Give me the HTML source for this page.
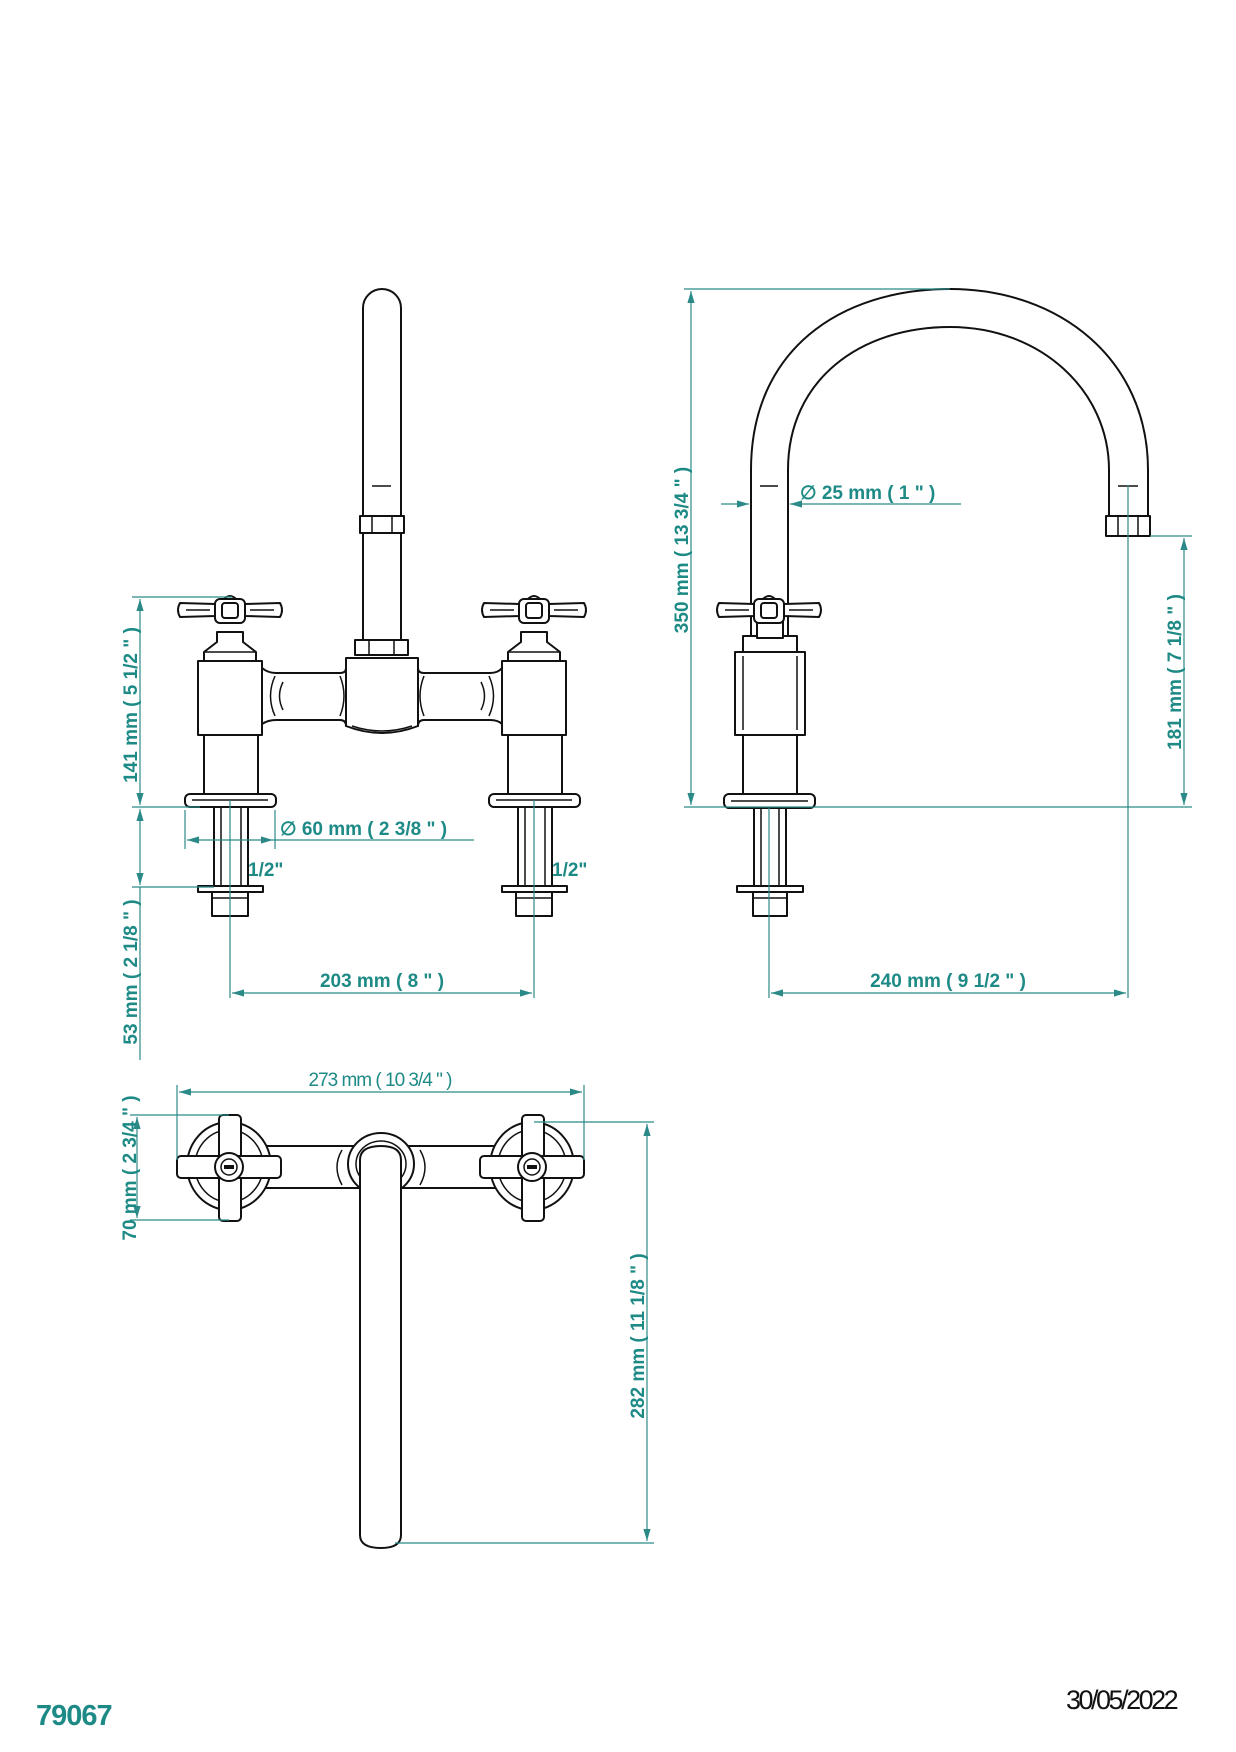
<!DOCTYPE html>
<html><head><meta charset="utf-8"><style>
html,body{margin:0;padding:0;background:#fff;}
svg{display:block;}
.d{stroke:#2b8a87;stroke-width:1.2;fill:none;}
.t{fill:#1e8a86;font-family:"Liberation Sans",sans-serif;font-weight:bold;font-size:19px;}
.k{stroke:#111;stroke-width:2;fill:#fff;stroke-linejoin:round;}
.kn{stroke:#111;stroke-width:1.5;fill:none;}
</style></head><body>
<svg width="1236" height="1752" viewBox="0 0 1236 1752" xmlns="http://www.w3.org/2000/svg">
<defs>
<marker id="a" viewBox="0 0 10 6" refX="10" refY="3" markerWidth="10" markerHeight="6" orient="auto-start-reverse"><path d="M0,0 L10,3 L0,6 z" fill="#2b8a87"/></marker>
</defs>

<path class="k" d="M363,640 L363,308 A19,19 0 0 1 401,308 L401,640 Z"/>
<line class="kn" x1="372" y1="486" x2="391" y2="486"/>
<rect class="k" x="360" y="516" width="44" height="17"/>
<line class="kn" x1="372" y1="516" x2="372" y2="533"/><line class="kn" x1="392" y1="516" x2="392" y2="533"/>
<rect class="k" x="355" y="640" width="53" height="15"/>
<line class="kn" x1="369" y1="640" x2="369" y2="655"/><line class="kn" x1="394" y1="640" x2="394" y2="655"/>
<path class="k" d="M262,668 Q268,673 276,673 L340,673 Q346,673 346,668 L418,668 Q418,673 424,673 L490,673 Q498,673 502,668 L502,724 Q498,720 490,720 L424,720 Q418,720 418,726 L346,726 Q346,720 340,720 L276,720 Q268,720 262,724 Z"/>
<path class="k" d="M346,658 L418,658 L418,726 Q382,740 346,726 Z"/>
<path class="kn" d="M352,726 Q382,736 412,726"/>
<path class="kn" d="M275,676 Q266,696 275,716"/><path class="kn" d="M283,682 Q276,696 283,710"/>
<path class="kn" d="M489,676 Q498,696 489,716"/><path class="kn" d="M481,682 Q488,696 481,710"/>
<path class="kn" d="M340,676 Q348,696 340,716"/><path class="kn" d="M424,676 Q416,696 424,716"/>

<g>
<rect class="k" x="198" y="661" width="64" height="74"/>
<rect class="k" x="204" y="735" width="54" height="59"/>
<rect class="k" x="185" y="794" width="91" height="13" rx="5"/>
<line class="kn" x1="192" y1="800" x2="268" y2="800"/>
<rect class="k" x="214" y="807" width="34" height="80"/>
<line class="kn" x1="221" y1="807" x2="221" y2="887"/><line class="kn" x1="241" y1="807" x2="241" y2="887"/>
<rect class="k" x="198" y="886" width="65" height="6"/>
<rect class="k" x="212" y="892" width="36" height="24"/>
<line class="kn" x1="212" y1="898" x2="248" y2="898"/>
<path class="k" d="M217,632 L243,632 L243,642 L256,652 L256,661 L204,661 L204,652 L217,642 Z"/>
<line class="kn" x1="204" y1="652" x2="256" y2="652"/>
<path class="k" d="M215,604 L180,603 Q176,610 180,617 L215,616 Z"/>
<path class="k" d="M245,604 L280,603 Q284,610 280,617 L245,616 Z"/>
<line class="kn" x1="186" y1="610" x2="210" y2="610"/><line class="kn" x1="250" y1="610" x2="274" y2="610"/>
<rect class="k" x="215" y="599" width="30" height="24" rx="5"/>
<rect class="k" x="222" y="603" width="16" height="15" rx="3"/>
<path class="k" d="M224,599 Q230,593 236,599 Z"/>
</g>
<g transform="translate(304,0)">
<rect class="k" x="198" y="661" width="64" height="74"/>
<rect class="k" x="204" y="735" width="54" height="59"/>
<rect class="k" x="185" y="794" width="91" height="13" rx="5"/>
<line class="kn" x1="192" y1="800" x2="268" y2="800"/>
<rect class="k" x="214" y="807" width="34" height="80"/>
<line class="kn" x1="221" y1="807" x2="221" y2="887"/><line class="kn" x1="241" y1="807" x2="241" y2="887"/>
<rect class="k" x="198" y="886" width="65" height="6"/>
<rect class="k" x="212" y="892" width="36" height="24"/>
<line class="kn" x1="212" y1="898" x2="248" y2="898"/>
<path class="k" d="M217,632 L243,632 L243,642 L256,652 L256,661 L204,661 L204,652 L217,642 Z"/>
<line class="kn" x1="204" y1="652" x2="256" y2="652"/>
<path class="k" d="M215,604 L180,603 Q176,610 180,617 L215,616 Z"/>
<path class="k" d="M245,604 L280,603 Q284,610 280,617 L245,616 Z"/>
<line class="kn" x1="186" y1="610" x2="210" y2="610"/><line class="kn" x1="250" y1="610" x2="274" y2="610"/>
<rect class="k" x="215" y="599" width="30" height="24" rx="5"/>
<rect class="k" x="222" y="603" width="16" height="15" rx="3"/>
<path class="k" d="M224,599 Q230,593 236,599 Z"/>
</g>

<line class="d" x1="132" y1="597" x2="232" y2="597"/>
<line class="d" x1="132" y1="807" x2="200" y2="807"/>
<line class="d" x1="132" y1="887" x2="214" y2="887"/>
<line class="d" x1="140" y1="599" x2="140" y2="805" marker-start="url(#a)" marker-end="url(#a)"/>
<line class="d" x1="140" y1="809" x2="140" y2="885" marker-start="url(#a)" marker-end="url(#a)"/>
<line class="d" x1="140" y1="887" x2="140" y2="1060"/>
<text class="t" transform="translate(137,705) rotate(-90)" text-anchor="middle">141 mm ( 5 1/2 " )</text>
<text class="t" transform="translate(137,972) rotate(-90)" text-anchor="middle">53 mm ( 2 1/8 " )</text>
<line class="d" x1="185" y1="810" x2="185" y2="849"/>
<line class="d" x1="275" y1="810" x2="275" y2="849"/>
<line class="d" x1="187" y1="840" x2="273" y2="840" marker-start="url(#a)" marker-end="url(#a)"/>
<line class="d" x1="273" y1="840" x2="474" y2="840"/>
<text class="t" x="280" y="835">∅ 60 mm ( 2 3/8 " )</text>
<text class="t" x="248" y="876">1/2"</text>
<text class="t" x="552" y="876">1/2"</text>
<line class="d" x1="230" y1="800" x2="230" y2="998"/>
<line class="d" x1="534" y1="800" x2="534" y2="998"/>
<line class="d" x1="232" y1="993" x2="532" y2="993" marker-start="url(#a)" marker-end="url(#a)"/>
<text class="t" x="382" y="987" text-anchor="middle">203 mm ( 8 " )</text>

<path class="k" d="M751,640 L751,470 C751,350 840,289 950,289 C1060,289 1148,360 1148,470 L1148,520 L1109,520 L1109,470 C1109,390 1040,327 950,327 C860,327 788,380 788,470 L788,640 Z"/>
<line class="kn" x1="760" y1="486" x2="778" y2="486"/>
<line class="kn" x1="1118" y1="486" x2="1138" y2="486"/>
<rect class="k" x="1106" y="516" width="44" height="20"/>
<line class="kn" x1="1118" y1="516" x2="1118" y2="536"/><line class="kn" x1="1138" y1="516" x2="1138" y2="536"/>
<rect class="k" x="743" y="636" width="54" height="16"/>
<rect class="k" x="735" y="652" width="70" height="83"/>
<line class="kn" x1="743" y1="656" x2="743" y2="730"/><line class="kn" x1="797" y1="656" x2="797" y2="730"/>
<rect class="k" x="743" y="735" width="54" height="59"/>
<rect class="k" x="724" y="794" width="91" height="14" rx="5"/>
<line class="kn" x1="731" y1="801" x2="808" y2="801"/>
<rect class="k" x="754" y="808" width="32" height="78"/>
<line class="kn" x1="761" y1="808" x2="761" y2="886"/><line class="kn" x1="779" y1="808" x2="779" y2="886"/>
<rect class="k" x="737" y="886" width="66" height="6"/>
<rect class="k" x="753" y="892" width="34" height="24"/>
<line class="kn" x1="753" y1="898" x2="787" y2="898"/>
<rect class="k" x="757" y="618" width="26" height="20"/>
<path class="k" d="M754,604 L719,603 Q715,610 719,617 L754,616 Z"/>
<path class="k" d="M784,604 L819,603 Q823,610 819,617 L784,616 Z"/>
<line class="kn" x1="725" y1="610" x2="749" y2="610"/><line class="kn" x1="789" y1="610" x2="813" y2="610"/>
<rect class="k" x="754" y="599" width="30" height="24" rx="5"/>
<rect class="k" x="761" y="603" width="16" height="15" rx="3"/>
<path class="k" d="M763,599 Q769,593 775,599 Z"/>

<line class="d" x1="684" y1="289" x2="950" y2="289"/>
<line class="d" x1="684" y1="807" x2="1192" y2="807"/>
<line class="d" x1="691" y1="291" x2="691" y2="805" marker-start="url(#a)" marker-end="url(#a)"/>
<text class="t" transform="translate(688,550) rotate(-90)" text-anchor="middle">350 mm ( 13 3/4 " )</text>
<line class="d" x1="721" y1="504" x2="749" y2="504" marker-end="url(#a)"/>
<line class="d" x1="790" y1="504" x2="961" y2="504" marker-start="url(#a)"/>
<text class="t" x="800" y="499">∅ 25 mm ( 1 " )</text>
<line class="d" x1="1150" y1="536" x2="1192" y2="536"/>
<line class="d" x1="1184" y1="538" x2="1184" y2="805" marker-start="url(#a)" marker-end="url(#a)"/>
<text class="t" transform="translate(1181,672) rotate(-90)" text-anchor="middle">181 mm ( 7 1/8 " )</text>
<line class="d" x1="1128" y1="485" x2="1128" y2="998"/>
<line class="d" x1="769" y1="808" x2="769" y2="998"/>
<line class="d" x1="771" y1="993" x2="1126" y2="993" marker-start="url(#a)" marker-end="url(#a)"/>
<text class="t" x="948" y="987" text-anchor="middle">240 mm ( 9 1/2 " )</text>

<rect class="k" x="262" y="1146" width="240" height="42"/>
<g>
<ellipse class="k" cx="229" cy="1166" rx="42" ry="44"/>
<ellipse class="kn" cx="229" cy="1166" rx="34" ry="36"/>
<rect class="k" x="219" y="1115" width="22" height="106" rx="4"/>
<rect class="k" x="177" y="1156" width="104" height="22" rx="4"/>
<circle class="k" cx="229" cy="1167" r="14"/>
<circle class="kn" cx="229" cy="1167" r="8"/>
<rect x="224" y="1165" width="10" height="4" fill="#111"/>
</g>
<g transform="translate(303,0)">
<ellipse class="k" cx="229" cy="1166" rx="42" ry="44"/>
<ellipse class="kn" cx="229" cy="1166" rx="34" ry="36"/>
<rect class="k" x="219" y="1115" width="22" height="106" rx="4"/>
<rect class="k" x="177" y="1156" width="104" height="22" rx="4"/>
<circle class="k" cx="229" cy="1167" r="14"/>
<circle class="kn" cx="229" cy="1167" r="8"/>
<rect x="224" y="1165" width="10" height="4" fill="#111"/>
</g>
<path class="kn" d="M342,1150 Q332,1167 342,1185"/><path class="kn" d="M420,1150 Q430,1167 420,1185"/>
<ellipse class="k" cx="381" cy="1164" rx="33" ry="31"/>
<ellipse class="kn" cx="381" cy="1164" rx="25" ry="23"/>
<path class="k" d="M360,1160 Q360,1146 381,1146 Q401,1146 401,1160 L401,1535 Q401,1548 381,1548 Q360,1548 360,1535 Z"/>

<line class="d" x1="177" y1="1085" x2="177" y2="1160"/>
<line class="d" x1="584" y1="1085" x2="584" y2="1160"/>
<line class="d" x1="179" y1="1092" x2="582" y2="1092" marker-start="url(#a)" marker-end="url(#a)"/>
<text class="t" x="380" y="1086" text-anchor="middle" style="font-weight:normal;font-size:19px;letter-spacing:-1px">273 mm ( 10 3/4 " )</text>
<line class="d" x1="130" y1="1115" x2="229" y2="1115"/>
<line class="d" x1="130" y1="1220" x2="229" y2="1220"/>
<line class="d" x1="137" y1="1117" x2="137" y2="1218" marker-start="url(#a)" marker-end="url(#a)"/>
<text class="t" transform="translate(136,1168) rotate(-90)" text-anchor="middle">70 mm ( 2 3/4 " )</text>
<line class="d" x1="534" y1="1122" x2="654" y2="1122"/>
<line class="d" x1="395" y1="1543" x2="654" y2="1543"/>
<line class="d" x1="647" y1="1124" x2="647" y2="1541" marker-start="url(#a)" marker-end="url(#a)"/>
<text class="t" transform="translate(644,1336) rotate(-90)" text-anchor="middle">282 mm ( 11 1/8 " )</text>

<text x="36" y="1725" style="fill:#1e8a86;font-family:'Liberation Sans',sans-serif;font-weight:bold;font-size:29px;letter-spacing:-1px">79067</text>
<text x="1066" y="1709" style="fill:#111;font-family:'Liberation Sans',sans-serif;font-size:27px;letter-spacing:-2.5px">30/05/2022</text>
</svg>
</body></html>
